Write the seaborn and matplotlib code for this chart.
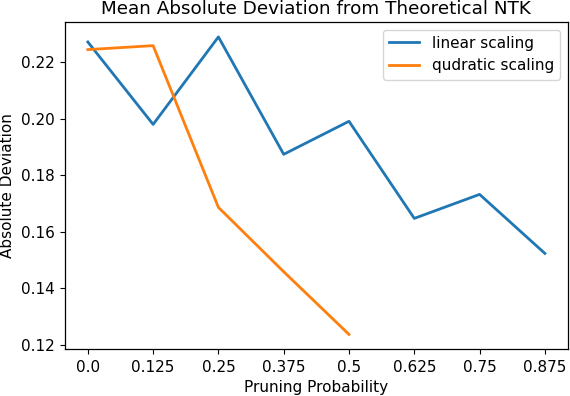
import matplotlib
matplotlib.use("Agg")
import matplotlib.pyplot as plt
import seaborn as sns
import pandas as pd

plt.rcParams['font.family'] = ['DejaVu Sans']

x_labels = ["0.0", "0.125", "0.25", "0.375", "0.5", "0.625", "0.75", "0.875"]
linear_vals = [0.2272, 0.1980, 0.2290, 0.1874, 0.1991, 0.1647, 0.1732, 0.1523]
quad_labels = ["0.0", "0.125", "0.25", "0.375", "0.5"]
quad_vals = [0.2245, 0.2259, 0.1686, 0.1458, 0.1236]

df = pd.concat([
    pd.DataFrame({"p": x_labels, "dev": linear_vals, "series": "linear scaling"}),
    pd.DataFrame({"p": quad_labels, "dev": quad_vals, "series": "qudratic scaling"}),
])

fig, ax = plt.subplots(figsize=(5.7, 3.96), dpi=100)
fig.subplots_adjust(left=0.114, right=0.996, top=0.9444, bottom=0.118)
sns.lineplot(data=df, x="p", y="dev", hue="series", sort=False,
             palette=["#1f77b4", "#ff7f0e"], linewidth=2.0, ax=ax)
ax.margins(x=0.05, y=0.05)
ax.set_yticks([0.12, 0.14, 0.16, 0.18, 0.20, 0.22])
ax.set_yticklabels(["0.12", "0.14", "0.16", "0.18", "0.20", "0.22"])
ax.set_xlabel("Pruning Probability", fontsize=11)
ax.set_ylabel("Absolute Deviation", fontsize=11)
ax.set_title("Mean Absolute Deviation from Theoretical NTK", fontsize=13.2)
ax.tick_params(labelsize=11, length=3.9)
for s in ax.spines.values():
    s.set_linewidth(0.9)
leg = ax.legend(loc="upper right", fontsize=11, title=None)
fig.savefig("out.png", dpi=100)
